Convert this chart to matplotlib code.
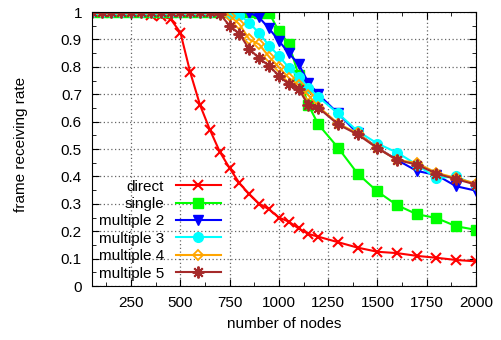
import numpy as np
import matplotlib.pyplot as plt
from matplotlib.ticker import MultipleLocator

plt.rcParams['font.family'] = ['Liberation Sans', 'DejaVu Sans']
plt.rcParams['font.size'] = 11

# numar de noduri
noduri = [50, 100, 150, 200, 250, 300, 350, 400, 450, 500, 550, 600,
          650, 700, 750, 800, 850, 900, 950, 1000, 1050, 1100, 1150, 1200,
          1300, 1400, 1500, 1600, 1700, 1800, 1900, 2000]

direct = [1, 1, 1, 1, 1, 1, 0.99, 0.985, 0.975, 0.925, 0.78, 0.66,
          0.57, 0.49, 0.43, 0.375, 0.335, 0.30, 0.28, 0.25, 0.235, 0.21, 0.19, 0.18,
          0.16, 0.14, 0.125, 0.12, 0.11, 0.103, 0.095, 0.09]
single = [1, 1, 1, 1, 1, 1, 1, 1, 1, 1, 1, 1,
          1, 1, 1, 1, 1, 0.997, 0.997, 0.93, 0.885, 0.77, 0.66, 0.59,
          0.505, 0.41, 0.345, 0.295, 0.262, 0.248, 0.218, 0.205]
multiple2 = [1, 1, 1, 1, 1, 1, 1, 1, 1, 1, 1, 1,
             1, 1, 1, 1, 0.998, 0.98, 0.94, 0.895, 0.85, 0.81, 0.742, 0.70,
             0.63, 0.557, 0.505, 0.46, 0.42, 0.405, 0.364, 0.348]
multiple3 = [1, 1, 1, 1, 1, 1, 1, 1, 1, 1, 1, 1,
             1, 1, 0.995, 0.99, 0.96, 0.923, 0.877, 0.84, 0.797, 0.764, 0.724, 0.69,
             0.63, 0.565, 0.52, 0.487, 0.443, 0.394, 0.40, 0.368]
multiple4 = [1, 1, 1, 1, 1, 1, 1, 1, 1, 1, 1, 1,
             1, 0.998, 0.987, 0.955, 0.90, 0.882, 0.837, 0.798, 0.76, 0.733, 0.696, 0.655,
             0.593, 0.557, 0.504, 0.46, 0.449, 0.413, 0.394, 0.374]
multiple5 = [1, 1, 1, 1, 1, 1, 1, 1, 1, 1, 1, 1,
             1, 0.993, 0.95, 0.92, 0.864, 0.832, 0.803, 0.768, 0.736, 0.72, 0.659, 0.651,
             0.59, 0.553, 0.503, 0.46, 0.443, 0.41, 0.39, 0.37]

fig = plt.figure(figsize=(5.02, 3.4), dpi=100)
ax = fig.add_axes([0.1827, 0.1588, 0.7653, 0.8059])

ax.plot(noduri, direct, color='red', lw=1.5, marker='x', ms=7, mew=1.5, label='direct')
ax.plot(noduri, single, color='#00ff00', lw=1.5, marker='s', ms=7, label='single')
ax.plot(noduri, multiple2, color='blue', lw=1.5, marker='v', ms=6.5, label='multiple 2')
ax.plot(noduri, multiple3, color='cyan', lw=1.5, marker='o', ms=7, label='multiple 3')
ax.plot(noduri, multiple4, color='orange', lw=1.5, marker='D', ms=5.5, mfc='none', mew=1.3,
        label='multiple 4')
ax.plot(noduri, multiple5, color='brown', lw=1.5, marker=(8, 2, 0), ms=8.5, mew=1.4,
        label='multiple 5')

ax.set_xlim(50, 2000)
ax.set_ylim(0, 1)
ax.set_xticks([250, 500, 750, 1000, 1250, 1500, 1750, 2000])
ax.set_yticks([0, 0.1, 0.2, 0.3, 0.4, 0.5, 0.6, 0.7, 0.8, 0.9, 1])
ax.set_yticklabels(['0', '0.1', '0.2', '0.3', '0.4', '0.5', '0.6', '0.7', '0.8', '0.9', '1'])
ax.xaxis.set_minor_locator(MultipleLocator(125))
ax.yaxis.set_minor_locator(MultipleLocator(0.05))
ax.tick_params(which='both', direction='in', top=True, right=True)
ax.tick_params(which='major', length=5)
ax.tick_params(which='minor', length=3)
ax.tick_params(axis='y', pad=7)
ax.tick_params(axis='x', pad=7)
ax.grid(True, which='major', color='0.4', linestyle=(0, (1, 2)), lw=0.9)

ax.set_xlabel('number of nodes', labelpad=5)
ax.set_ylabel('frame receiving rate')
ax.yaxis.set_label_coords(-0.165, 0.515)

# legenda fara chenar, textul la stanga liniei
leg = ax.legend(loc='lower right', bbox_to_anchor=(0.336, 0.02), frameon=False,
                markerfirst=False, handlelength=2.95, labelspacing=0.22,
                handletextpad=0.78, borderaxespad=0, borderpad=0)

fig.savefig('out.png', dpi=100)
